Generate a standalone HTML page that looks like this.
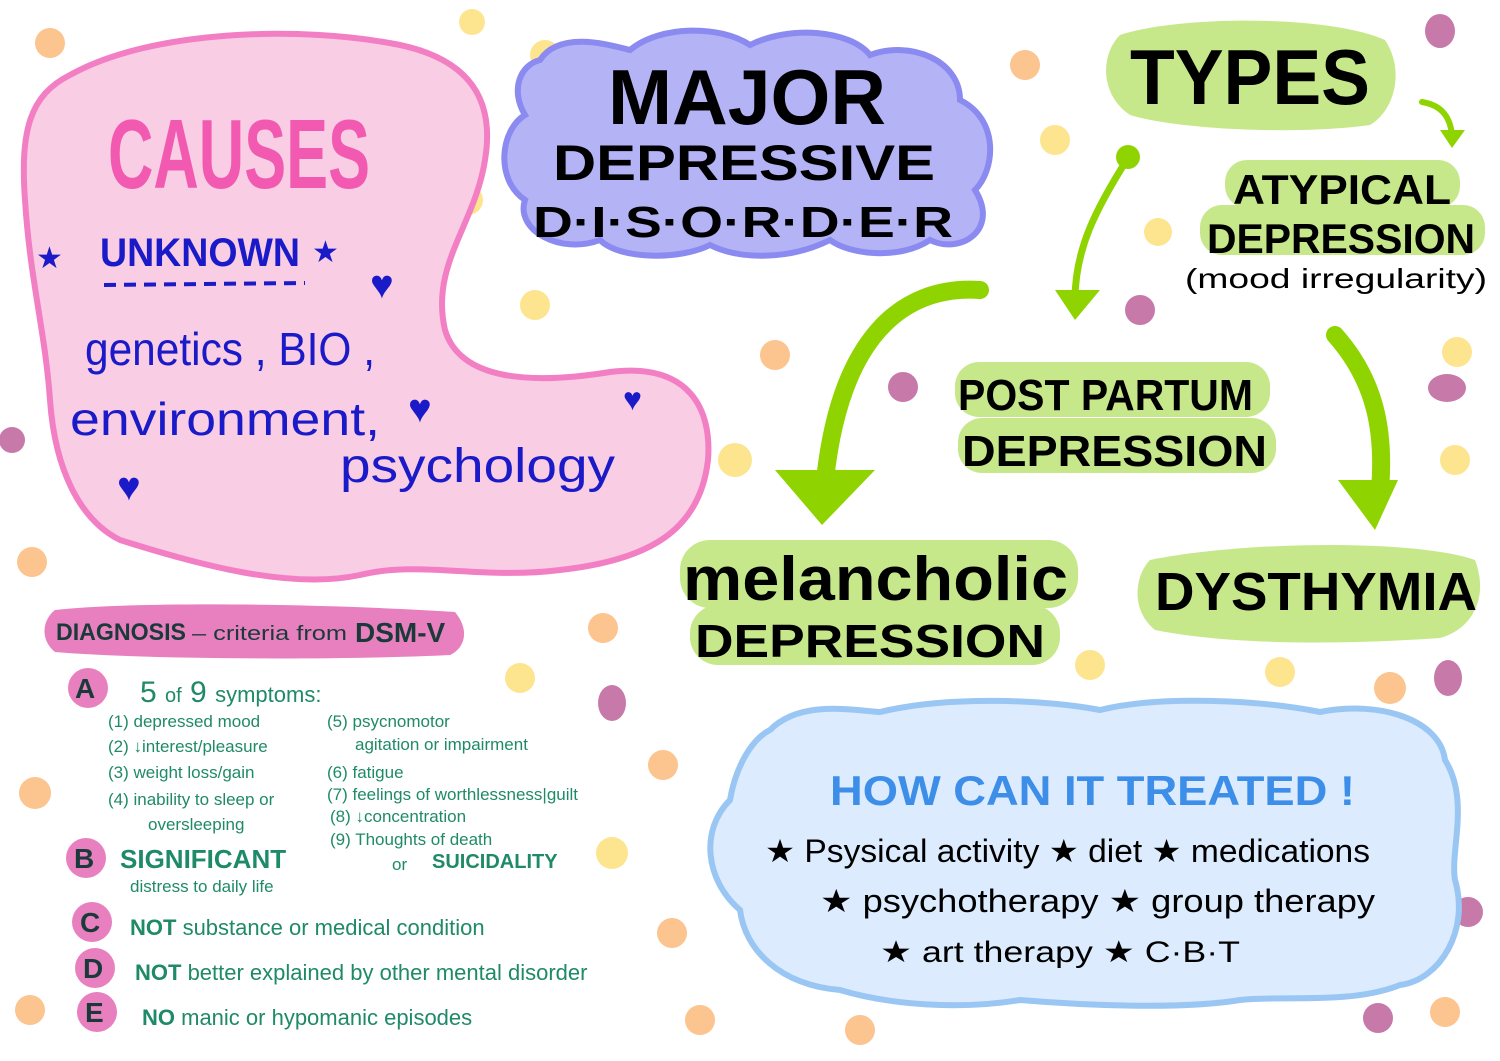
<!DOCTYPE html>
<html><head><meta charset="utf-8"><style>
html,body{margin:0;padding:0;background:#fff;}
svg{display:block;}
text{font-family:"Liberation Sans",sans-serif;}
.b{font-weight:bold;}
.g{fill:#1f8a68;}
</style></head><body>
<svg width="1500" height="1061" viewBox="0 0 1500 1061" xmlns="http://www.w3.org/2000/svg">
<rect width="1500" height="1061" fill="#fff"/>
<g>
<circle cx="50" cy="43" r="15" fill="#fcc48e"/>
<circle cx="545" cy="55" r="15" fill="#fde58f"/>
<circle cx="472" cy="22" r="13" fill="#fde58f"/>
<ellipse cx="1440" cy="31" rx="15" ry="17" fill="#c779a9"/>
<circle cx="1025" cy="65" r="15" fill="#fcc48e"/>
<circle cx="1055" cy="140" r="15" fill="#fde58f"/>
<circle cx="468" cy="200" r="15" fill="#fde58f"/>
<circle cx="535" cy="305" r="15" fill="#fde58f"/>
<circle cx="1158" cy="232" r="14" fill="#fde58f"/>
<circle cx="1140" cy="310" r="15" fill="#c779a9"/>
<circle cx="775" cy="355" r="15" fill="#fcc48e"/>
<circle cx="1457" cy="352" r="15" fill="#fde58f"/>
<circle cx="903" cy="387" r="15" fill="#c779a9"/>
<ellipse cx="1447" cy="388" rx="19" ry="14" fill="#c779a9"/>
<circle cx="12" cy="440" r="13" fill="#c779a9"/>
<circle cx="735" cy="460" r="17" fill="#fde58f"/>
<circle cx="1455" cy="460" r="15" fill="#fde58f"/>
<circle cx="32" cy="562" r="15" fill="#fcc48e"/>
<circle cx="232" cy="557" r="16" fill="#fcc48e"/>
<circle cx="603" cy="628" r="15" fill="#fcc48e"/>
<circle cx="520" cy="678" r="15" fill="#fde58f"/>
<circle cx="1090" cy="665" r="15" fill="#fde58f"/>
<circle cx="1280" cy="672" r="15" fill="#fde58f"/>
<circle cx="1390" cy="688" r="16" fill="#fcc48e"/>
<ellipse cx="1448" cy="678" rx="14" ry="18" fill="#c779a9"/>
<ellipse cx="612" cy="703" rx="14" ry="18" fill="#c779a9"/>
<circle cx="663" cy="765" r="15" fill="#fcc48e"/>
<circle cx="35" cy="793" r="16" fill="#fcc48e"/>
<circle cx="612" cy="853" r="16" fill="#fde58f"/>
<circle cx="672" cy="933" r="15" fill="#fcc48e"/>
<circle cx="1468" cy="912" r="15" fill="#c779a9"/>
<circle cx="30" cy="1010" r="15" fill="#fcc48e"/>
<circle cx="700" cy="1020" r="15" fill="#fcc48e"/>
<circle cx="860" cy="1030" r="15" fill="#fcc48e"/>
<circle cx="1378" cy="1018" r="15" fill="#c779a9"/>
<circle cx="1445" cy="1012" r="15" fill="#fcc48e"/>
</g>
<path d="M70,75 C150,30 300,25 400,45 C470,60 495,100 485,160 C475,225 430,265 445,330 C460,380 530,385 610,372 C690,362 712,410 708,460 C700,530 650,560 560,570 C480,580 420,560 360,575 C290,590 200,565 120,540 C80,520 55,470 50,400 C45,330 30,280 25,200 C20,130 30,95 70,75 Z" fill="#f9cde3" stroke="#f27fc4" stroke-width="6"/>
<text x="108" y="188" font-size="98" fill="#f25ab2" class="b" textLength="262" lengthAdjust="spacingAndGlyphs">CAUSES</text>
<text x="36" y="268" font-size="30" fill="#1a1ac8">★</text>
<text x="100" y="266" font-size="40" fill="#1a1ac8" class="b" textLength="200" lengthAdjust="spacingAndGlyphs">UNKNOWN</text>
<text x="312" y="262" font-size="30" fill="#1a1ac8">★</text>
<line x1="104" y1="285" x2="305" y2="283" stroke="#1a1ac8" stroke-width="4" stroke-dasharray="12,8"/>
<text x="85" y="365" font-size="46" fill="#1a1ac8" textLength="290" lengthAdjust="spacingAndGlyphs">genetics , BIO ,</text>
<text x="70" y="435" font-size="46" fill="#1a1ac8" textLength="310" lengthAdjust="spacingAndGlyphs">environment,</text>
<text x="340" y="482" font-size="48" fill="#1a1ac8" textLength="275" lengthAdjust="spacingAndGlyphs">psychology</text>
<g fill="#1a1ac8" font-size="40"><text x="370" y="298">♥</text><text x="408" y="422">♥</text><text x="623" y="410" font-size="32">♥</text><text x="117" y="500">♥</text></g>
<path d="M540,60 C560,30 610,45 630,50 C660,25 720,25 750,45 C790,25 850,30 870,55 C910,40 960,60 960,100 C1000,120 995,170 975,190 C1000,230 960,255 930,240 C900,260 850,255 830,240 C790,260 740,260 710,245 C680,260 620,260 600,240 C560,255 515,230 525,200 C495,180 500,130 525,115 C510,90 520,65 540,60 Z" fill="#b3b3f5" stroke="#8a8af0" stroke-width="6"/>
<text x="608" y="124" font-size="78" class="b" fill="#000" textLength="278" lengthAdjust="spacingAndGlyphs">MAJOR</text>
<text x="553" y="180" font-size="50" class="b" fill="#000" textLength="382" lengthAdjust="spacingAndGlyphs">DEPRESSIVE</text>
<text x="533" y="237" font-size="44" class="b" fill="#000" textLength="420" lengthAdjust="spacingAndGlyphs">D·I·S·O·R·D·E·R</text>
<g fill="#c7e88a">
<path d="M1120,35 C1180,15 1330,15 1385,40 C1405,70 1395,110 1370,125 C1300,135 1180,130 1130,115 C1100,95 1100,55 1120,35Z"/>
<rect x="1225" y="160" width="235" height="48" rx="22"/>
<rect x="1200" y="205" width="285" height="50" rx="22"/>
<rect x="955" y="362" width="315" height="55" rx="24"/>
<rect x="958" y="418" width="318" height="55" rx="24"/>
<rect x="680" y="540" width="398" height="68" rx="30"/>
<rect x="690" y="605" width="370" height="60" rx="28"/>
<path d="M1150,560 C1250,540 1420,540 1475,560 C1490,600 1470,630 1440,638 C1340,645 1230,645 1155,630 C1130,610 1135,575 1150,560Z"/>
</g>
<text x="1130" y="104" font-size="78" class="b" fill="#000" textLength="240" lengthAdjust="spacingAndGlyphs">TYPES</text>
<text x="1233" y="204" font-size="42" class="b" fill="#000" textLength="218" lengthAdjust="spacingAndGlyphs">ATYPICAL</text>
<text x="1207" y="253" font-size="42" class="b" fill="#000" textLength="268" lengthAdjust="spacingAndGlyphs">DEPRESSION</text>
<text x="1185" y="288" font-size="28" fill="#000" textLength="302" lengthAdjust="spacingAndGlyphs">(mood irregularity)</text>
<text x="958" y="410" font-size="44" class="b" fill="#000" textLength="295" lengthAdjust="spacingAndGlyphs">POST PARTUM</text>
<text x="962" y="466" font-size="44" class="b" fill="#000" textLength="305" lengthAdjust="spacingAndGlyphs">DEPRESSION</text>
<text x="683" y="600" font-size="62" class="b" fill="#000" textLength="385" lengthAdjust="spacingAndGlyphs">melancholic</text>
<text x="695" y="657" font-size="46" class="b" fill="#000" textLength="350" lengthAdjust="spacingAndGlyphs">DEPRESSION</text>
<text x="1155" y="610" font-size="54" class="b" fill="#000" textLength="322" lengthAdjust="spacingAndGlyphs">DYSTHYMIA</text>
<g stroke="#8fd400" fill="none" stroke-linecap="round">
<path d="M980,290 C900,285 840,340 825,480" stroke-width="18"/>
<path d="M1128,158 C1095,210 1075,250 1075,300" stroke-width="7"/>
<path d="M1335,335 C1375,380 1385,430 1380,490" stroke-width="18"/>
<path d="M1422,102 C1440,105 1450,115 1452,135" stroke-width="6"/>
</g>
<g fill="#8fd400">
<circle cx="1128" cy="157" r="12"/>
<polygon points="775,470 875,470 822,525"/>
<polygon points="1055,290 1100,290 1075,320"/>
<polygon points="1338,480 1398,480 1375,530"/>
<polygon points="1440,130 1465,130 1452,148"/>
</g>
<path d="M770,730 C800,700 850,710 880,712 C950,695 1050,700 1100,710 C1160,695 1260,700 1320,712 C1380,700 1440,720 1445,760 C1470,800 1450,850 1455,880 C1470,930 1440,980 1400,985 C1350,1005 1280,995 1240,1000 C1180,1010 1080,1005 1020,1000 C960,1010 890,1005 840,990 C780,985 745,950 740,910 C705,880 700,830 730,800 C735,770 750,740 770,730 Z" fill="#dcebfd" stroke="#9ac6f4" stroke-width="6"/>
<text x="830" y="805" font-size="42" class="b" fill="#3d8ee8" textLength="525" lengthAdjust="spacingAndGlyphs">HOW CAN IT TREATED !</text>
<text x="765" y="862" font-size="32" fill="#000" textLength="605" lengthAdjust="spacingAndGlyphs">★ Psysical activity ★ diet ★ medications</text>
<text x="820" y="912" font-size="32" fill="#000" textLength="555" lengthAdjust="spacingAndGlyphs">★ psychotherapy ★ group therapy</text>
<text x="880" y="962" font-size="30" fill="#000" textLength="360" lengthAdjust="spacingAndGlyphs">★ art therapy ★ C·B·T</text>
<path d="M55,610 C150,600 350,605 455,612 C470,630 465,648 450,655 C350,660 150,660 55,652 C40,640 42,620 55,610Z" fill="#e87fbf"/>
<text x="56" y="640" font-size="24" class="b" fill="#1a3a3a" textLength="130" lengthAdjust="spacingAndGlyphs">DIAGNOSIS</text>
<text x="192" y="640" font-size="20" fill="#1a3a3a" textLength="155" lengthAdjust="spacingAndGlyphs">– criteria from</text>
<text x="355" y="642" font-size="28" class="b" fill="#1a3a3a">DSM-V</text>
<g fill="#e87fbf">
<circle cx="88" cy="688" r="20"/><circle cx="86" cy="858" r="20"/><circle cx="92" cy="922" r="20"/><circle cx="95" cy="968" r="20"/><circle cx="97" cy="1012" r="20"/>
</g>
<g font-size="28" class="b" fill="#1a3a3a">
<text x="75" y="698">A</text><text x="74" y="868">B</text><text x="80" y="932">C</text><text x="83" y="978">D</text><text x="85" y="1022">E</text>
</g>
<g class="g" font-size="17">
<text x="140" y="702" font-size="30">5 <tspan font-size="20">of</tspan> 9 <tspan font-size="22">symptoms:</tspan></text>
<text x="108" y="727">(1) depressed mood</text>
<text x="108" y="752">(2) ↓interest/pleasure</text>
<text x="108" y="778">(3) weight loss/gain</text>
<text x="108" y="805">(4) inability to sleep or</text>
<text x="148" y="830">oversleeping</text>
<text x="327" y="727">(5) psycnomotor</text>
<text x="355" y="750">agitation or impairment</text>
<text x="327" y="778">(6) fatigue</text>
<text x="327" y="800">(7) feelings of worthlessness|guilt</text>
<text x="330" y="822">(8) ↓concentration</text>
<text x="330" y="845">(9) Thoughts of death</text>
<text x="392" y="870">or</text>
<text x="432" y="868" font-size="20" class="b">SUICIDALITY</text>
<text x="120" y="868" font-size="26" class="b">SIGNIFICANT</text>
<text x="130" y="892">distress to daily life</text>
<text x="130" y="935" font-size="22"><tspan class="b">NOT</tspan> substance or medical condition</text>
<text x="135" y="980" font-size="22"><tspan class="b">NOT</tspan> better explained by other mental disorder</text>
<text x="142" y="1025" font-size="22"><tspan class="b">NO</tspan>  manic or hypomanic episodes</text>
</g>
</svg>
</body></html>
